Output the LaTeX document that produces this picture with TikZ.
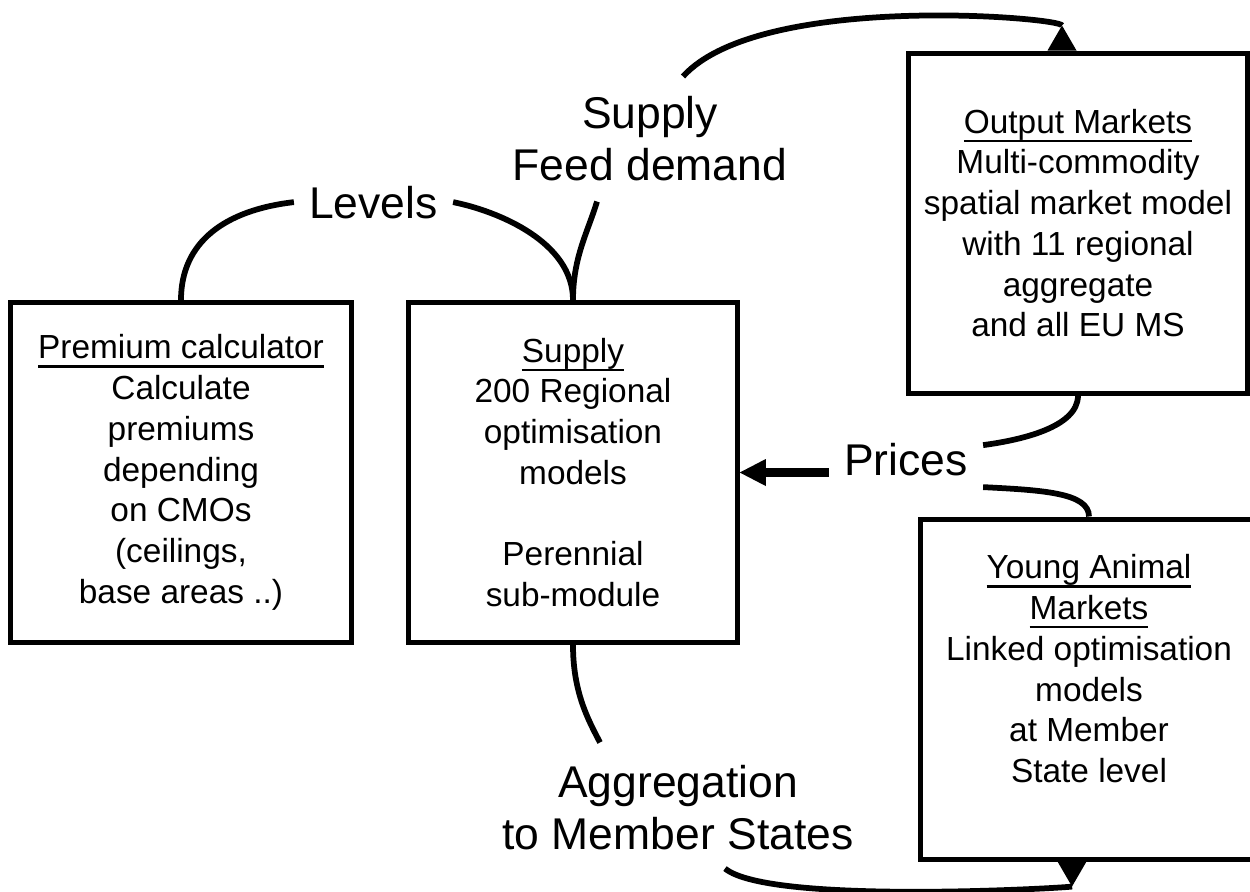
\documentclass[tikz,border=0pt]{standalone}
\usepackage{fontspec}
\setmainfont{Liberation Sans}
\usetikzlibrary{arrows.meta,calc}
\newsavebox{\hdbox}
\newcommand{\hd}[1]{\sbox{\hdbox}{#1}\rlap{\rule[-5pt]{\wd\hdbox}{1.3pt}}\usebox{\hdbox}}

\begin{document}
\begin{tikzpicture}[x = 0.2mm, y = -0.2mm,
  box/.style={draw,line width=1mm,align=center,minimum height=68mm,inner sep=0pt,font=\fontsize{19}{23.2}\selectfont},
  lbl/.style={align=center,inner sep=3mm,font=\fontsize{25.3}{30}\selectfont},
  conn/.style={line width=1.15mm},
  endtip/.style={-{Triangle[reversed,length=5mm,width=5.8mm,line width=0pt]}},
  bigarrow/.style={line width=1.74mm,-{Triangle[length=5.2mm,width=5.4mm,line width=0pt]}}]
\useasboundingbox (0,0) rectangle (1250,891);
% model boxes
\node[box,minimum width=68.2mm] (prem) at (181,472.5) {\hd{Premium calculator}\\Calculate\\premiums\\depending\\on CMOs\\(ceilings,\\base areas ..)};
\node[box,minimum width=65.7mm] (supply) at (573,472.5) {\hd{Supply}\\200 Regional\\optimisation\\models\\[23.2pt]Perennial\\sub-module};
\node[box,minimum width=67.7mm] (output) at (1078,223) {\hd{Output Markets}\\Multi-commodity\\spatial market model\\with 11 regional\\aggregate\\and all EU MS};
\node[box,minimum width=67.6mm] (young) at (1089,689) {\hd{Young Animal}\\\hd{Markets}\\Linked optimisation\\models\\at Member\\State level\\ \mbox{}};
% flow labels
\node[lbl,anchor=base] (levels) at (373.5,218) {Levels};
\node[lbl] (feed) at (650,138.5) {Supply\\Feed demand};
\node[lbl,anchor=base] (prices) at (906,475) {Prices};
\node[lbl] (agg) at (678,807.5) {Aggregation\\to Member States};
% links
\draw[conn] (prem.north) .. controls +(0,-58) and +(-69,8) .. (levels.west);
\draw[conn] (levels.east) .. controls +(45,9) and +(0,-58) .. (supply.north);
\draw[conn] ($(feed.south)+(-53,5)$) .. controls +(-9,30) and +(0,-43) .. (supply.north);
\draw[conn,endtip] ($(feed.north)+(33,-4)$) .. controls +(77,-85) and +(0,-33) .. ($(output.north)+(-16,0)$);
\draw[conn] (output.south) .. controls +(0,32) and +(37,-5) .. ($(prices.east)+(0,-14)$);
\draw[conn] ($(prices.east)+(0,28)$) .. controls +(58,3) and +(0,-24) .. (young.north);
\draw[bigarrow] (prices.west |- supply.east) -- (supply.east);
\draw[conn] (supply.south) .. controls +(0,47) and +(-12,-23) .. ($(agg.north)+(-78,-7)$);
\draw[conn,endtip] ($(agg.south)+(47,3)$) .. controls +(45,37) and +(0,26) .. ($(young.south)+(-17,0)$);
\end{tikzpicture}
\end{document}
